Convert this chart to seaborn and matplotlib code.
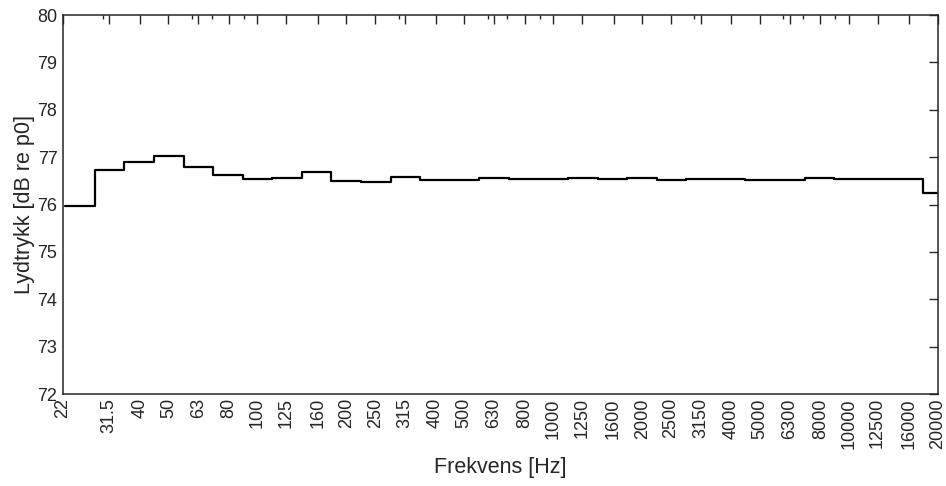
import numpy as np
import pandas as pd
import matplotlib
matplotlib.use("Agg")
import matplotlib.pyplot as plt
import matplotlib.ticker as mticker
import seaborn as sns

# Third-octave band nominal centres (Hz) and levels (dB re p0)
bands = [25, 31.5, 40, 50, 63, 80, 100, 125, 160, 200, 250, 315, 400, 500, 630,
         800, 1000, 1250, 1600, 2000, 2500, 3150, 4000, 5000, 6300, 8000, 10000,
         12500, 16000, 20000]
levels = [75.97, 76.73, 76.90, 77.02, 76.80, 76.63, 76.53, 76.56, 76.68, 76.49,
          76.47, 76.59, 76.52, 76.52, 76.57, 76.53, 76.53, 76.56, 76.53, 76.55,
          76.51, 76.53, 76.53, 76.52, 76.52, 76.55, 76.53, 76.54, 76.53, 76.24]
tick_labels = ["22", "31.5", "40", "50", "63", "80", "100", "125", "160", "200",
               "250", "315", "400", "500", "630", "800", "1000", "1250", "1600",
               "2000", "2500", "3150", "4000", "5000", "6300", "8000", "10000",
               "12500", "16000", "20000"]
tick_values = [float(t) for t in tick_labels]
x_min, x_max = 22.0, 20000.0

# band edges from exact base-10 band numbers
n = np.round(10 * np.log10(np.array(bands, dtype=float))).astype(int)
edges = 10 ** ((np.append(n - 0.5, n[-1] + 0.5)) / 10)
edges = np.clip(edges, x_min, x_max)
df = pd.DataFrame({"f": edges, "L": list(levels) + [levels[-1]]})

sns.set_theme(style="white")
plt.rcParams["font.family"] = ["Liberation Sans", "DejaVu Sans"]
dark = "#262626"

fig = plt.figure(figsize=(9.46, 4.86), dpi=100)
ax = fig.add_axes([0.0666, 0.1893, 0.9249, 0.7798])
sns.lineplot(data=df, x="f", y="L", drawstyle="steps-post", color="black",
             linewidth=1.6, estimator=None, sort=True, ax=ax)

ax.set_xscale("log")
ax.set_xlim(x_min, x_max)
ax.set_ylim(72, 80)
ax.xaxis.set_major_locator(mticker.FixedLocator(tick_values))
ax.xaxis.set_major_formatter(mticker.FixedFormatter(tick_labels))
ax.xaxis.set_minor_locator(mticker.LogLocator(base=10, subs=np.arange(2, 10), numticks=50))
ax.xaxis.set_minor_formatter(mticker.NullFormatter())
ax.yaxis.set_major_locator(mticker.MultipleLocator(1))

ax.tick_params(axis="both", which="both", direction="in", top=True, right=True,
               color=dark, labelcolor=dark, labelsize=13)
ax.tick_params(axis="both", which="major", length=6.5, width=1.0)
ax.tick_params(axis="x", which="minor", length=3, width=1.0)
ax.tick_params(axis="x", which="major", pad=3)
ax.tick_params(axis="y", which="major", pad=4)
for lab in ax.get_xticklabels():
    lab.set_rotation(90)

for s in ax.spines.values():
    s.set_visible(True)
    s.set_color(dark)
    s.set_linewidth(1.1)

ax.set_xlabel("Frekvens [Hz]", fontsize=15.5, color=dark, labelpad=6)
ax.set_ylabel("Lydtrykk [dB re p0]", fontsize=15.5, color=dark, labelpad=2)
ax.grid(False)

fig.savefig("out.png", dpi=100)
